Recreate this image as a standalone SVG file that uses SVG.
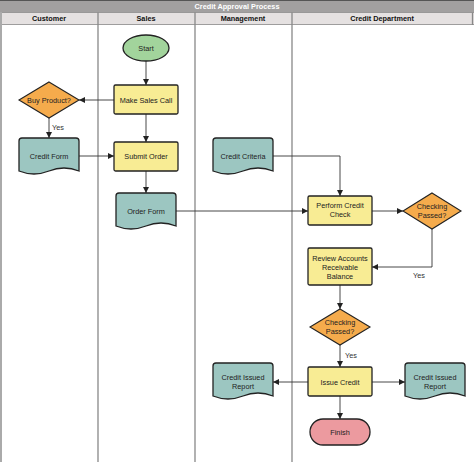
<svg xmlns="http://www.w3.org/2000/svg" width="474" height="462" viewBox="0 0 474 462">
<defs>
<marker id="arr" viewBox="0 0 10 10" refX="10" refY="5" markerWidth="6" markerHeight="6" orient="auto" markerUnits="userSpaceOnUse">
<path d="M0,0 L10,5 L0,10 Z" fill="#222"/>
</marker>
<style>
text{font-family:"Liberation Sans",Arial,sans-serif;font-size:7.3px;fill:#222;text-anchor:middle}
.hd{font-weight:bold;fill:#111}
.ttl{font-weight:bold;fill:#fff}
.proc{fill:#f8ec94;stroke:#222;stroke-width:1.3}
.dec{fill:#f5ab4c;stroke:#222;stroke-width:1.1}
.doc{fill:#9cc6c1;stroke:#222;stroke-width:1.3}
.lane{stroke:#888;stroke-width:1.3;fill:none}
.con{stroke:#333;stroke-width:0.9;fill:none;marker-end:url(#arr)}
.lbl{fill:#333}
</style>
</defs>
<rect width="474" height="462" fill="#fff"/>
<g id="pool">
<rect x="0" y="0" width="474" height="12.5" fill="#a2a0a0"/>
<line x1="0" y1="0.5" x2="474" y2="0.5" stroke="#555" stroke-width="1"/>
<rect x="0" y="12.5" width="474" height="12" fill="#e5e1e1"/>
<line x1="0" y1="12.5" x2="474" y2="12.5" stroke="#888" stroke-width="0.8"/>
<line x1="0" y1="24.5" x2="474" y2="24.5" stroke="#888" stroke-width="0.8"/>
<line x1="1" y1="12" x2="1" y2="462" stroke="#aaa" stroke-width="2"/>
<line class="lane" x1="98" y1="12.5" x2="98" y2="462"/>
<line class="lane" x1="195" y1="12.5" x2="195" y2="462"/>
<line class="lane" x1="292" y1="12.5" x2="292" y2="462"/>
<line class="lane" x1="472.5" y1="12.5" x2="472.5" y2="25"/>
<text class="ttl" x="237" y="9">Credit Approval Process</text>
<text class="hd" x="49" y="21">Customer</text>
<text class="hd" x="146" y="21">Sales</text>
<text class="hd" x="243" y="21">Management</text>
<text class="hd" x="382" y="21">Credit Department</text>
</g>
<g id="connectors">
<line class="con" x1="146" y1="61" x2="146" y2="85"/>
<line class="con" x1="114" y1="100" x2="79" y2="100"/>
<line class="con" x1="49" y1="118" x2="49" y2="138"/>
<line class="con" x1="79" y1="156" x2="114" y2="156"/>
<line class="con" x1="146" y1="114" x2="146" y2="142"/>
<line class="con" x1="146" y1="171" x2="146" y2="193"/>
<line class="con" x1="176" y1="211" x2="308" y2="211"/>
<polyline class="con" points="273,156 340,156 340,196"/>
<line class="con" x1="372" y1="211" x2="403" y2="211"/>
<polyline class="con" points="432,229 432,267 372,267"/>
<line class="con" x1="340" y1="285" x2="340" y2="309"/>
<line class="con" x1="340" y1="345" x2="340" y2="367"/>
<line class="con" x1="308" y1="382" x2="273" y2="382"/>
<line class="con" x1="372" y1="382" x2="405" y2="382"/>
<line class="con" x1="340" y1="396" x2="340" y2="419"/>
<text class="lbl" x="58" y="130">Yes</text>
<text class="lbl" x="419" y="278">Yes</text>
<text class="lbl" x="351" y="358">Yes</text>
</g>
<g id="start">
<ellipse cx="146" cy="48" rx="23" ry="13" fill="#a2d49c" stroke="#222" stroke-width="1.3"/>
<text x="146" y="50.5">Start</text>
</g>
<g id="make-sales-call">
<rect class="proc" x="114" y="85" width="64" height="29" rx="1.5"/>
<text x="146" y="102.5">Make Sales Call</text>
</g>
<g id="buy-product">
<polygon class="dec" points="49,82 79,100 49,118 19,100"/>
<text x="49" y="102.5">Buy Product?</text>
</g>
<g id="credit-form">
<path class="doc" d="M19,141 Q19,138 22,138 L76,138 Q79,138 79,141 L79,171 Q64,165 49,171 Q34,177 19,171 Z"/>
<text x="49" y="159">Credit Form</text>
</g>
<g id="submit-order">
<rect class="proc" x="114" y="142" width="64" height="29" rx="1.5"/>
<text x="146" y="159">Submit Order</text>
</g>
<g id="order-form">
<path class="doc" d="M116,196 Q116,193 119,193 L173,193 Q176,193 176,196 L176,226 Q161,220 146,226 Q131,232 116,226 Z"/>
<text x="146" y="213.5">Order Form</text>
</g>
<g id="credit-criteria">
<path class="doc" d="M213,141 Q213,138 216,138 L270,138 Q273,138 273,141 L273,171 Q258,165 243,171 Q228,177 213,171 Z"/>
<text x="243" y="159">Credit Criteria</text>
</g>
<g id="perform-credit-check">
<rect class="proc" x="308" y="196" width="64" height="29" rx="1.5"/>
<text x="340" y="208">Perform Credit</text>
<text x="340" y="217">Check</text>
</g>
<g id="checking-passed-1">
<polygon class="dec" points="432,193 461,211 432,229 403,211"/>
<text x="432" y="209">Checking</text>
<text x="432" y="218">Passed?</text>
</g>
<g id="review-accounts">
<rect class="proc" x="308" y="248" width="64" height="37" rx="1.5"/>
<text x="340" y="261">Review Accounts</text>
<text x="340" y="269.5">Receivable</text>
<text x="340" y="278.5">Balance</text>
</g>
<g id="checking-passed-2">
<polygon class="dec" points="340,309 370,327 340,345 310,327"/>
<text x="340" y="325">Checking</text>
<text x="340" y="334">Passed?</text>
</g>
<g id="issue-credit">
<rect class="proc" x="308" y="367" width="64" height="29" rx="1.5"/>
<text x="340" y="384.5">Issue Credit</text>
</g>
<g id="credit-issued-report-left">
<path class="doc" d="M213,366 Q213,363 216,363 L270,363 Q273,363 273,366 L273,396 Q258,390 243,396 Q228,402 213,396 Z"/>
<text x="243" y="380">Credit Issued</text>
<text x="243" y="389">Report</text>
</g>
<g id="credit-issued-report-right">
<path class="doc" d="M405,366 Q405,363 408,363 L462,363 Q465,363 465,366 L465,396 Q450,390 435,396 Q420,402 405,396 Z"/>
<text x="435" y="380">Credit Issued</text>
<text x="435" y="389">Report</text>
</g>
<g id="finish">
<rect x="310" y="419" width="60" height="26" rx="13" fill="#ec9a9f" stroke="#222" stroke-width="1.3"/>
<text x="340" y="434.5">Finish</text>
</g>
</svg>
